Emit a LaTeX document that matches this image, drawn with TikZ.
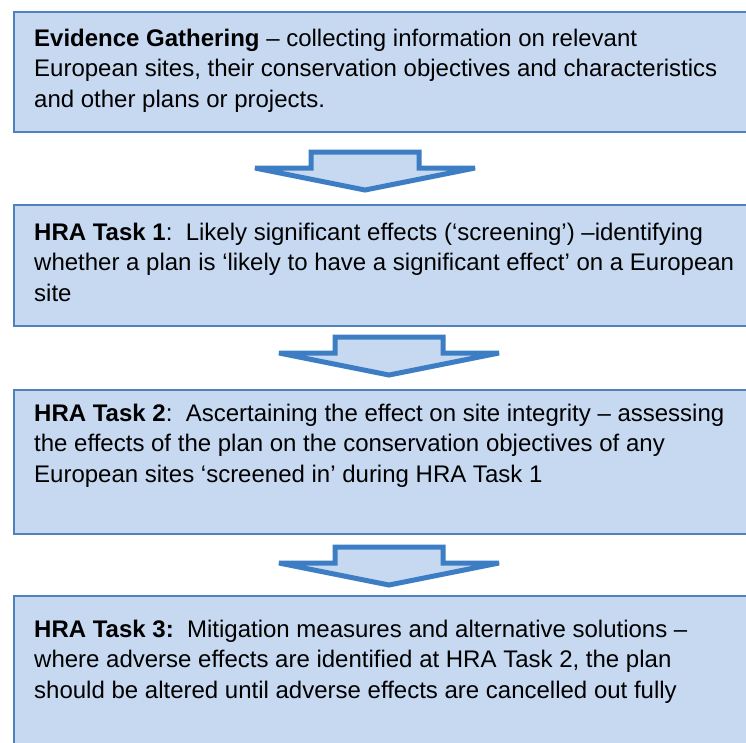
\documentclass[tikz,border=0pt]{standalone}
\usepackage{fontspec}
\setmainfont{Liberation Sans}
\usetikzlibrary{positioning}

\definecolor{boxfill}{HTML}{C6D9F1}
\definecolor{boxline}{HTML}{4F81BD}
\definecolor{arrowline}{HTML}{3C7DC4}

\tikzset{
  stage/.style={draw=boxline, line width=2pt, fill=boxfill, anchor=north west,
    minimum width=760pt, inner sep=0pt},
  stagetext/.style={anchor=base west, align=left, inner sep=0pt},
  downarrow/.pic={
    \draw[draw=arrowline, line width=5pt, fill=boxfill, line join=miter]
      (-110,18) -- (-54,18) -- (-54,2) -- (54,2) -- (54,18) -- (110,18) -- (0,40) -- cycle;
  }
}

\begin{document}
\begin{tikzpicture}[x=1pt, y=-1pt, every node/.style={font=\fontsize{24}{30.5}\selectfont}]
  \clip (0,0) rectangle (746,742);

  % boxes
  \node[stage, minimum height=120pt] (evidence) at (13,11) {};
  \node[stage, minimum height=121pt] (task1) at (13,204) {};
  \node[stage, minimum height=144pt] (task2) at (13,389) {};
  \node[stage, minimum height=160pt] (task3) at (13,595) {};

  % texts (base anchor sits on the last of the three lines)
  \node[stagetext] (evidencetxt) at (34,107) {\textbf{Evidence Gathering} – collecting information on relevant\\European sites, their conservation objectives and characteristics\\and other plans or projects.};
  \node[stagetext] (task1txt) at (34,301) {\textbf{HRA Task 1}:\ \ Likely significant effects (‘screening’) –identifying\\whether a plan is ‘likely to have a significant effect’ on a European\\site};
  \node[stagetext] (task2txt) at (34,482) {\textbf{HRA Task 2}:\ \ Ascertaining the effect on site integrity – assessing\\the effects of the plan on the conservation objectives of any\\European sites ‘screened in’ during HRA Task 1};
  \node[stagetext] (task3txt) at (34,698) {\textbf{HRA Task 3:}\ \ Mitigation measures and alternative solutions –\\where adverse effects are identified at HRA Task 2, the plan\\should be altered until adverse effects are cancelled out fully};

  % block arrows between the stages
  \pic at (365,150) {downarrow};
  \pic at (389,335) {downarrow};
  \pic at (389,545) {downarrow};
\end{tikzpicture}
\end{document}
